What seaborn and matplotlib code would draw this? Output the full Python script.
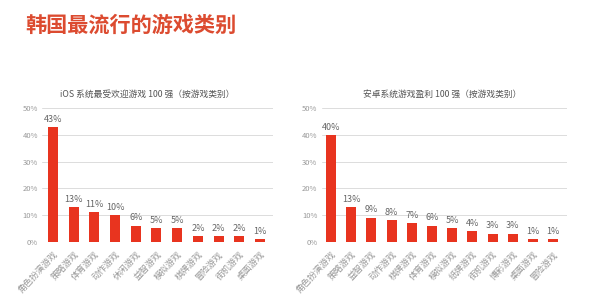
import matplotlib
matplotlib.use("Agg")
import matplotlib.pyplot as plt
import seaborn as sns
import pandas as pd

sns.set_theme(style="white")
plt.rcParams['font.family'] = ['Noto Sans CJK SC', 'DejaVu Sans']

main_title = "韩国最流行的游戏类别"

ios_title = "iOS 系统最受欢迎游戏 100 强（按游戏类别）"
ios_categories = ["角色扮演游戏", "策略游戏", "体育游戏", "动作游戏", "休闲游戏", "益智游戏",
                  "模拟游戏", "棋牌游戏", "冒险游戏", "街机游戏", "桌面游戏"]
ios_values = [43, 13, 11, 10, 6, 5, 5, 2, 2, 2, 1]

android_title = "安卓系统游戏盈利 100 强（按游戏类别）"
android_categories = ["角色扮演游戏", "策略游戏", "益智游戏", "动作游戏", "棋牌游戏", "体育游戏",
                      "模拟游戏", "纸牌游戏", "街机游戏", "博彩游戏", "桌面游戏", "冒险游戏"]
android_values = [40, 13, 9, 8, 7, 6, 5, 4, 3, 3, 1, 1]

yticks = [0, 10, 20, 30, 40, 50]

BAR = "#e8341f"
TITLE_RED = "#dc4b30"
GRID = "#dcdcdc"
TXT = "#999999"

fig = plt.figure(figsize=(5.94, 2.98), dpi=100)
fig.text(25 / 594, 1 - 25 / 298, main_title, color=TITLE_RED, fontsize=15.2,
         fontweight="bold", va="center", ha="left")


def draw(ax, cats, vals, title, xlim, width, title_x):
    df = pd.DataFrame({"cat": cats, "val": vals})
    sns.barplot(data=df, x="cat", y="val", color=BAR, width=width, ax=ax,
                saturation=1, edgecolor="none")
    ax.set_ylim(0, 50)
    ax.set_xlim(*xlim)
    ax.set_yticks(yticks)
    ax.set_yticklabels([f"{t}%" for t in yticks], fontsize=5.5, color=TXT)
    ax.yaxis.grid(True, color=GRID, linewidth=0.7)
    ax.set_axisbelow(True)
    for s in ax.spines.values():
        s.set_visible(False)
    ax.tick_params(axis="y", length=0, pad=3)
    ax.tick_params(axis="x", length=0, pad=6)
    ax.set_xticks(range(len(cats)))
    ax.set_xticklabels(cats, rotation=47, ha="right", rotation_mode="anchor",
                       fontsize=6.4, color=TXT)
    ax.set_xlabel("")
    ax.set_ylabel("")
    for i, v in enumerate(vals):
        ax.text(i, v + 1.2, f"{v}%", ha="center", va="bottom", fontsize=6.5,
                color="#666666")
    ax.set_title(title, fontsize=6.3, color="#555555", pad=8, x=title_x)


H = 241.6 - 108.3
ax1 = fig.add_axes([42 / 594, 1 - 241.6 / 298, (273 - 42) / 594, H / 298])
draw(ax1, ios_categories, ios_values, ios_title, (-0.53, 10.63), 0.48, 0.455)

ax2 = fig.add_axes([321.7 / 594, 1 - 241.6 / 298, (566.7 - 321.7) / 594, H / 298])
draw(ax2, android_categories, android_values, android_title, (-0.46, 11.67), 0.5, 0.49)

fig.savefig("out.png", dpi=100, facecolor="white")
